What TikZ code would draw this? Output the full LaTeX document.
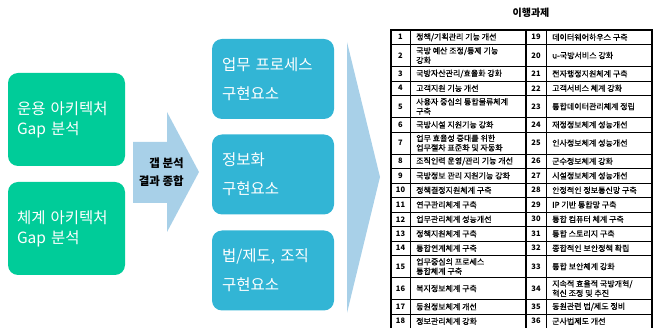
\documentclass[tikz,border=0pt]{standalone}
\usepackage{fontspec}
\setmainfont{Noto Sans CJK KR}
\newfontfamily\tblfont[FakeBold=0.5]{Noto Sans CJK KR}
\definecolor{grn}{RGB}{0,204,153}
\definecolor{blu}{RGB}{50,181,213}
\definecolor{lite}{RGB}{168,208,232}
\tikzset{
  gbox/.style={fill=grn, rounded corners=10pt, text=white, align=left, inner xsep=9pt,
    minimum width=117pt, minimum height=93pt, text width=99pt, font=\fontsize{15.5}{20}\selectfont},
  bbox/.style={fill=blu, rounded corners=10pt, text=white, align=left, inner xsep=10pt,
    minimum width=122pt, minimum height=80pt, text width=102pt, font=\fontsize{15.5}{29}\selectfont},
  numc/.style={inner sep=0pt, font=\bfseries\fontsize{7.5}{9}\selectfont},
  txtc/.style={inner xsep=6pt, inner ysep=0pt, anchor=west, align=left, font=\tblfont\fontsize{8}{9.5}\selectfont},
  inl/.style={line width=0.6pt},
  outl/.style={line width=1.2pt}
}
\newcommand\trow[7]{%
  \node[numc] (nl#1) at (400.5,{(#2+#3)/2}) {#4};
  \node[txtc] (tl#1) at (410,{(#2+#3)/2}) {#5};
  \node[numc] (nr#1) at (536,{(#2+#3)/2}) {#6};
  \node[txtc] (tr#1) at (546,{(#2+#3)/2}) {#7};
}
\begin{document}
\begin{tikzpicture}[x=1pt,y=-1pt]
\useasboundingbox (0,0) rectangle (659,328);
% left boxes
\node[gbox] (g1) at (66.5,119.5) {운용 아키텍처\\Gap 분석};
\node[gbox] (g2) at (66.5,228.5) {체계 아키텍처\\Gap 분석};
% middle arrow
\fill[lite] (133,142) -- (167,142) -- (167,112) -- (199,172) -- (167,232) -- (167,203) -- (133,203) -- cycle;
\node[align=right, anchor=east, inner sep=0pt, font=\bfseries\fontsize{11.5}{18}\selectfont] (gap) at (184,172) {갭 분석\\결과 종합};
% blue boxes
\node[bbox] (b1) at (273,79) {업무 프로세스\\구현요소};
\node[bbox] (b2) at (273,174.5) {정보화\\구현요소};
\node[bbox] (b3) at (273,270.5) {법/제도, 조직\\구현요소};
% big arrow
\fill[lite] (347,42) -- (380,177) -- (347,313) -- cycle;
% title
\node[font=\bfseries\fontsize{10}{12}\selectfont] (title) at (531,13) {이행과제};
% table rows
\trow{1}{30}{44.5}{1}{정책/기획관리 기능 개선}{19}{데이터웨어하우스 구축}
\trow{2}{44.5}{66.5}{2}{국방 예산 조정/통제 기능\\강화}{20}{u-국방서비스 강화}
\trow{3}{66.5}{81}{3}{국방자산관리/효율화 강화}{21}{전자행정지원체계 구축}
\trow{4}{81}{95.5}{4}{고객지원 기능 개선}{22}{고객서비스 체계 강화}
\trow{5}{95.5}{117.5}{5}{사용자 중심의 통합물류체계\\구축}{23}{통합데이터관리체계 정립}
\trow{6}{117.5}{132}{6}{국방시설 지원기능 강화}{24}{재정정보체계 성능개선}
\trow{7}{132}{154}{7}{업무 효율성 증대를 위한\\업무절차 표준화 및 자동화}{25}{인사정보체계 성능개선}
\trow{8}{154}{168.5}{8}{조직인력 운영/관리 기능 개선}{26}{군수정보체계 강화}
\trow{9}{168.5}{183}{9}{국방정보 관리 지원기능 강화}{27}{시설정보체계 성능개선}
\trow{10}{183}{197.5}{10}{정책결정지원체계 구축}{28}{안정적인 정보통신망 구축}
\trow{11}{197.5}{212}{11}{연구관리체계 구축}{29}{IP 기반 통합망 구축}
\trow{12}{212}{226.5}{12}{업무관리체계 성능개선}{30}{통합 컴퓨터 체계 구축}
\trow{13}{226.5}{241}{13}{정책지원체계 구축}{31}{통합 스토리지 구축}
\trow{14}{241}{255.5}{14}{통합연계체계 구축}{32}{종합적인 보안정책 확립}
\trow{15}{255.5}{277.5}{15}{업무중심의 프로세스\\통합체계 구축}{33}{통합 보안체계 강화}
\trow{16}{277.5}{299.5}{16}{복지정보체계 구축}{34}{지속적 효율적 국방개혁/\\혁신 조정 및 추진}
\trow{17}{299.5}{314}{17}{동원정보체계 개선}{35}{동원관련 법/제도 정비}
\trow{18}{314}{328.5}{18}{정보관리체계 강화}{36}{군사법제도 개선}
% grid lines
\foreach \yy in {44.5,66.5,81,95.5,117.5,132,154,168.5,183,197.5,212,226.5,241,255.5,277.5,299.5,314}
  \draw[inl] (391,\yy) -- (652,\yy);
\draw[inl] (410,30) -- (410,328.5);
\draw[inl] (546,30) -- (546,328.5);
\draw[outl] (526,30) -- (526,328.5);
\draw[outl] (391,30) rectangle (652,328.5);
\end{tikzpicture}
\end{document}
